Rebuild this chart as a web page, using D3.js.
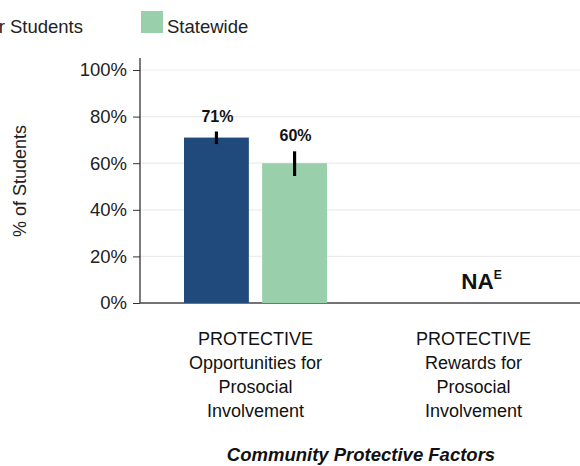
<!DOCTYPE html>
<html><head><meta charset="utf-8">
<script src="https://cdn.jsdelivr.net/npm/d3@7"></script>
<style>body{margin:0;background:#fff}svg{display:block}text{font-family:"Liberation Sans",Arial,Helvetica,sans-serif}</style>
</head><body>
<svg id="c" width="580" height="466"></svg>
<script>
const categories = ["PROTECTIVE|Opportunities for|Prosocial|Involvement", "PROTECTIVE|Rewards for|Prosocial|Involvement"];
const series = ["Your Students", "Statewide"];
const yourValues = [71, null];
const stateValues = [60, null];
const yourErr = [[68.2, 73.6], null];
const stateErr = [[54.5, 65.1], null];
const yTicks = [0, 20, 40, 60, 80, 100];
const naLabels = [null, "NA"];
const colors = ["#214a7c", "#99cfab"];

const svg = d3.select("#c");
const x0 = 140, yTop = 58;
const y = d3.scaleLinear().domain([0, 100]).range([303, 70]);
const x = d3.scaleBand().domain(categories).range([146.5, 582.5]);
const xi = d3.scaleBand().domain(series).range([-71.5, 71.5]).paddingInner(0.17);

// gridlines
svg.append("g").selectAll("line").data(yTicks.filter(d => d > 0)).join("line")
  .attr("x1", x0).attr("x2", 580).attr("y1", d => y(d)).attr("y2", d => y(d))
  .attr("stroke", "#ececec").attr("stroke-width", 1.2);

// y axis
const yAxis = d3.axisLeft(y).tickValues(yTicks).tickFormat(d => d + "%").tickSize(7).tickPadding(6);
const ga = svg.append("g").attr("transform", `translate(${x0},0)`).call(yAxis);
ga.select(".domain").remove();
ga.selectAll(".tick line").attr("stroke", "#333");
ga.selectAll(".tick text").attr("font-size", 18.5).attr("fill", "#222")
  .attr("font-family", '"Liberation Sans",Arial,sans-serif');
svg.append("line").attr("x1", x0).attr("x2", x0).attr("y1", yTop).attr("y2", y(0)).attr("stroke", "#222").attr("stroke-width", 1.2);
svg.append("line").attr("x1", x0).attr("x2", 580).attr("y1", y(0)).attr("y2", y(0)).attr("stroke", "#444").attr("stroke-width", 1.6);

// bars
const rows = [];
categories.forEach((c, i) => {
  [yourValues, stateValues].forEach((vals, s) => {
    if (vals[i] != null) rows.push({c, s, v: vals[i], e: (s === 0 ? yourErr : stateErr)[i]});
  });
});
const g = svg.append("g");
g.selectAll("rect").data(rows).join("rect")
  .attr("x", d => x(d.c) + x.bandwidth() / 2 + xi(series[d.s]))
  .attr("width", xi.bandwidth())
  .attr("y", d => y(d.v)).attr("height", d => y(0) - y(d.v))
  .attr("fill", d => colors[d.s]);
g.selectAll("line.err").data(rows).join("line").attr("class", "err")
  .attr("x1", d => x(d.c) + x.bandwidth() / 2 + xi(series[d.s]) + xi.bandwidth() / 2)
  .attr("x2", d => x(d.c) + x.bandwidth() / 2 + xi(series[d.s]) + xi.bandwidth() / 2)
  .attr("y1", d => y(d.e[0])).attr("y2", d => y(d.e[1]))
  .attr("stroke", "#000").attr("stroke-width", 3.2);
g.selectAll("text.val").data(rows).join("text").attr("class", "val")
  .attr("x", d => x(d.c) + x.bandwidth() / 2 + xi(series[d.s]) + xi.bandwidth() / 2 + 1)
  .attr("y", d => y(d.e[1]) - 10)
  .attr("text-anchor", "middle").attr("font-size", 16).attr("font-weight", "bold").attr("fill", "#111")
  .text(d => Math.round(d.v) + "%");

// NA
categories.forEach((c, i) => {
  if (naLabels[i]) {
    const t = svg.append("text").attr("x", x(c) + x.bandwidth() / 2 + 8).attr("y", 289)
      .attr("text-anchor", "middle").attr("font-weight", "bold").attr("font-size", 22.5).attr("fill", "#111");
    t.append("tspan").text(naLabels[i]);
    t.append("tspan").attr("font-size", 12).attr("dy", -10).text("E");
  }
});

// category labels
categories.forEach(c => {
  const t = svg.append("text").attr("text-anchor", "middle").attr("font-size", 18).attr("fill", "#111");
  c.split("|").forEach((ln, k) => {
    t.append("tspan").attr("x", x(c) + x.bandwidth() / 2).attr("y", 345 + k * 23.9).text(ln);
  });
});

// axis titles
svg.append("text").attr("transform", "translate(26,181) rotate(-90)").attr("text-anchor", "middle")
  .attr("font-size", 18).attr("fill", "#222").text("% of Students");
svg.append("text").attr("x", 361).attr("y", 461).attr("text-anchor", "middle")
  .attr("font-family", '"Open Sans",sans-serif').attr("font-weight", "bold").attr("font-style", "italic")
  .attr("font-size", 18.5).attr("fill", "#111").text("Community Protective Factors");

// legend
const lt1 = svg.append("text").attr("x", 83).attr("y", 33).attr("text-anchor", "end").attr("font-size", 18.5).attr("fill", "#222").text(series[0]);
const w1 = lt1.node().getComputedTextLength();
svg.append("rect").attr("x", 83 - w1 - 26).attr("y", 11).attr("width", 22).attr("height", 22).attr("fill", colors[0]);
svg.append("rect").attr("x", 141).attr("y", 11).attr("width", 22).attr("height", 22).attr("fill", colors[1]);
svg.append("text").attr("x", 167).attr("y", 33).attr("font-size", 18.5).attr("fill", "#222").text(series[1]);
</script>
</body></html>
